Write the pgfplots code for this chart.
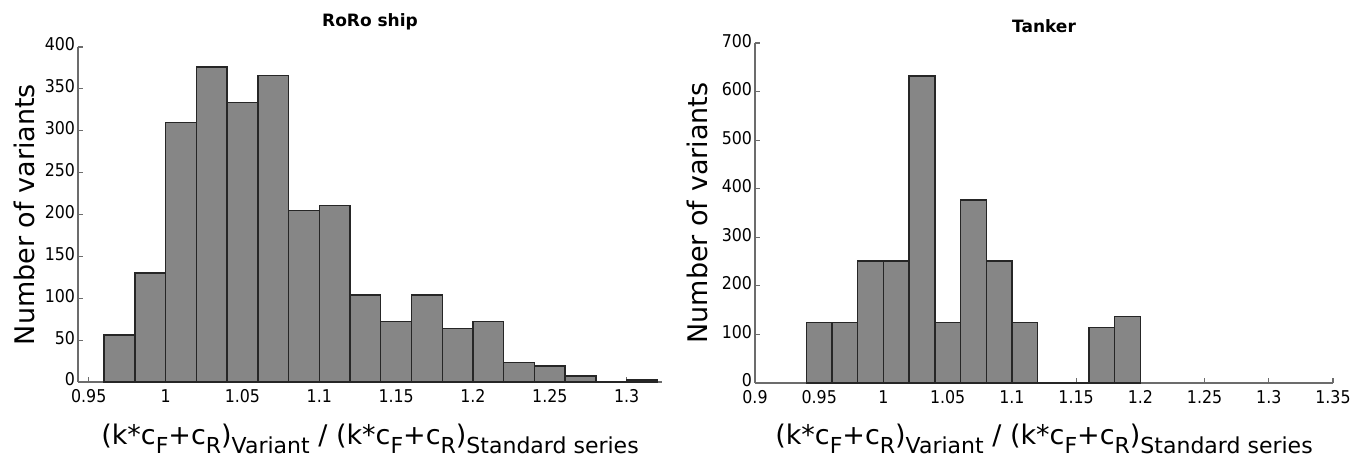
\documentclass[border=0pt]{standalone}
\usepackage{fontspec}
\setmainfont{DejaVu Sans}
\newfontfamily\condfont{DejaVu Sans Condensed}
\usepackage{pgfplots}
\pgfplotsset{compat=1.18}

% subscripts of the x label
\newcommand\sub[1]{\raisebox{-4.5pt}{\fontsize{11}{12}\selectfont #1}}
\newcommand\ratiolabel{(k*c\sub{F}+c\sub{R})\sub{Variant} / (k*c\sub{F}+c\sub{R})\sub{Standard series}}

\pgfplotsset{histo/.style={
  scale only axis, anchor=south west, clip=false,
  axis x line*=bottom, axis y line*=left,
  axis line style={gray!85!black, line width=0.8pt},
  tick style={gray!85!black, line width=0.6pt},
  tick align=inside, major tick length=2.5pt,
  ticklabel style={font=\condfont\fontsize{8.8}{10}\selectfont, inner sep=0.8pt},
  xticklabel style={yshift=-2.8pt},
  yticklabel style={xshift=-0.5pt, yshift=1.2pt},
  /pgf/number format/assume math mode=true,
  xticklabel={\pgfmathprintnumber[fixed,precision=2]{\tick}},
  ymin=0,
}}

\begin{document}
\begin{tikzpicture}
\useasboundingbox (0,0) rectangle (682.5pt,229pt);

% RoRo ship
\begin{axis}[histo,
  at={(39pt,38pt)}, width=292pt, height=167.5pt,
  xmin=0.943, xmax=1.323, ymax=400,
  xtick={0.95,1,1.05,1.1,1.15,1.2,1.25,1.3},
  ytick={0,50,...,400}]
\addplot[ybar interval, fill=gray!95, draw=black!85, line width=0.7pt] coordinates {
 (0.96,56) (0.98,130) (1.00,310) (1.02,376) (1.04,334) (1.06,366)
 (1.08,205) (1.10,211) (1.12,104) (1.14,72) (1.16,104) (1.18,64)
 (1.20,72) (1.22,23) (1.24,19) (1.26,7) (1.28,0) (1.30,2.5) (1.32,2.5)
};
\node[font=\bfseries\fontsize{8.5}{10}\selectfont] at (axis description cs:0.5,1.075) {RoRo ship};
\node[rotate=90, font=\fontsize{13.5}{16}\selectfont] at (axis description cs:-0.0925,0.5) {Number of variants};
\node[font=\fontsize{13.5}{16}\selectfont] at (axis description cs:0.5,-0.17) {\ratiolabel};
\end{axis}

% Tanker
\begin{axis}[histo,
  at={(377.5pt,37.5pt)}, width=289pt, height=170pt,
  xmin=0.9, xmax=1.35, ymax=700,
  xtick={0.9,0.95,1,1.05,1.1,1.15,1.2,1.25,1.3,1.35},
  ytick={0,100,...,700}]
\addplot[ybar interval, fill=gray!95, draw=black!85, line width=0.7pt] coordinates {
 (0.94,125) (0.96,125) (0.98,251) (1.00,251) (1.02,632) (1.04,125)
 (1.06,377) (1.08,251) (1.10,125) (1.12,0) (1.14,0) (1.16,114)
 (1.18,137) (1.20,137)
};
\node[font=\bfseries\fontsize{8.5}{10}\selectfont] at (axis description cs:0.5,1.05) {Tanker};
\node[rotate=90, font=\fontsize{13.5}{16}\selectfont] at (axis description cs:-0.1,0.5) {Number of variants};
\node[font=\fontsize{13.5}{16}\selectfont] at (axis description cs:0.5,-0.165) {\ratiolabel};
\end{axis}
\end{tikzpicture}
\end{document}
